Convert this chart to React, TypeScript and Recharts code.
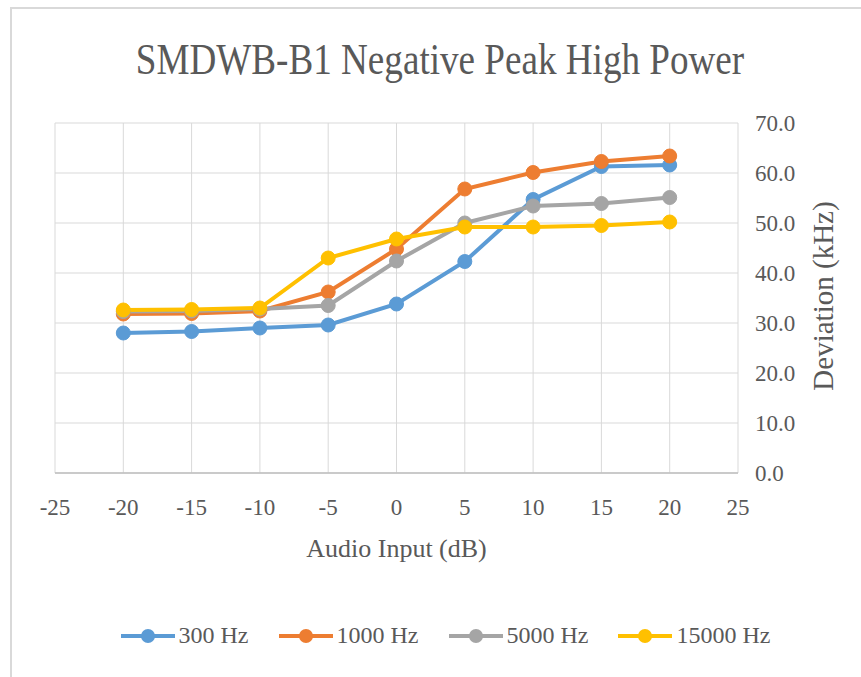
import React from "react"
import { LineChart, Line, XAxis, YAxis, CartesianGrid, Legend } from "recharts"

const audioInput = [-20, -15, -10, -5, 0, 5, 10, 15, 20]
const hz300 = [28.0, 28.3, 29.0, 29.6, 33.8, 42.3, 54.7, 61.3, 61.6]
const hz1000 = [31.8, 31.9, 32.4, 36.2, 44.8, 56.8, 60.1, 62.3, 63.4]
const hz5000 = [32.3, 32.4, 32.8, 33.5, 42.4, 50.0, 53.4, 53.9, 55.1]
const hz15000 = [32.6, 32.7, 33.0, 43.0, 46.8, 49.2, 49.2, 49.5, 50.2]

const xTicks = [-25, -20, -15, -10, -5, 0, 5, 10, 15, 20, 25]
const yTicks = [0, 10, 20, 30, 40, 50, 60, 70]

const seriesList = [
  { key: "hz300", name: "300 Hz", color: "#5B9BD5", values: hz300 },
  { key: "hz1000", name: "1000 Hz", color: "#ED7D31", values: hz1000 },
  { key: "hz5000", name: "5000 Hz", color: "#A5A5A5", values: hz5000 },
  { key: "hz15000", name: "15000 Hz", color: "#FFC000", values: hz15000 },
]

const chartData = audioInput.map((x, i) => {
  const row: Record<string, number> = { x }
  seriesList.forEach((s) => {
    row[s.key] = s.values[i]
  })
  return row
})

const font = "'Liberation Serif', 'Times New Roman', serif"
const textColor = "#595959"

const renderLegend = () => (
  <div style={{ display: "flex", justifyContent: "center", fontFamily: font, fontSize: 24, color: textColor }}>
    {seriesList.map((s, i) => (
      <div
        key={s.key}
        style={{ display: "flex", alignItems: "center", marginRight: i < seriesList.length - 1 ? 30 : 0 }}
      >
        <svg width={54} height={16}>
          <line x1={0} y1={8} x2={54} y2={8} stroke={s.color} strokeWidth={4} />
          <circle cx={27} cy={8} r={7} fill={s.color} />
        </svg>
        <span style={{ marginLeft: 4 }}>{s.name}</span>
      </div>
    ))}
  </div>
)

export default function App() {
  return (
    <div style={{ position: "absolute", left: 0, top: 0, width: 861, height: 677, background: "#fff", overflow: "hidden" }}>
      <div
        style={{
          position: "absolute",
          left: 10,
          top: 7,
          width: 860,
          height: 680,
          border: "2px solid #d9d9d9",
          boxSizing: "border-box",
        }}
      />
      <div
        style={{
          position: "absolute",
          left: 0,
          width: 880,
          top: 32,
          textAlign: "center",
          fontFamily: font,
          fontSize: 45,
          color: textColor,
          transform: "scaleX(0.825)",
          lineHeight: "54px",
        }}
      >
        SMDWB-B1 Negative Peak High Power
      </div>
      <LineChart
        width={861}
        height={677}
        data={chartData}
        margin={{ top: 123, right: 18, bottom: 114, left: 55 }}
        style={{ position: "absolute", left: 0, top: 0 }}
      >
        <CartesianGrid stroke="#d9d9d9" strokeWidth={1} />
        <XAxis
          dataKey="x"
          type="number"
          domain={[-25, 25]}
          ticks={xTicks}
          height={90}
          tickLine={false}
          tickMargin={20}
          axisLine={{ stroke: "#bfbfbf", strokeWidth: 1.5 }}
          tick={{ fill: textColor, fontFamily: font, fontSize: 23 }}
          label={{
            value: "Audio Input (dB)",
            position: "insideBottom",
            offset: 6,
            fill: textColor,
            fontFamily: font,
            fontSize: 26,
          }}
        />
        <YAxis
          orientation="right"
          domain={[0, 70]}
          ticks={yTicks}
          width={105}
          tickLine={false}
          axisLine={false}
          tickMargin={11}
          tickFormatter={(v: number) => v.toFixed(1)}
          tick={{ fill: textColor, fontFamily: font, fontSize: 23, textAnchor: "start" }}
          label={{
            value: "Deviation (kHz)",
            angle: -90,
            position: "center",
            dx: 32,
            dy: -2,
            fill: textColor,
            fontFamily: font,
            fontSize: 29,
          }}
        />
        <Legend
          verticalAlign="middle"
          layout="horizontal"
          content={renderLegend}
          wrapperStyle={{ top: 622, left: 15, width: 861 }}
        />
        {seriesList.map((s) => (
          <Line
            key={s.key}
            dataKey={s.key}
            name={s.name}
            stroke={s.color}
            strokeWidth={4}
            dot={{ r: 7, fill: s.color, stroke: s.color, strokeWidth: 1 }}
            activeDot={false}
            isAnimationActive={false}
          />
        ))}
      </LineChart>
    </div>
  )
}
